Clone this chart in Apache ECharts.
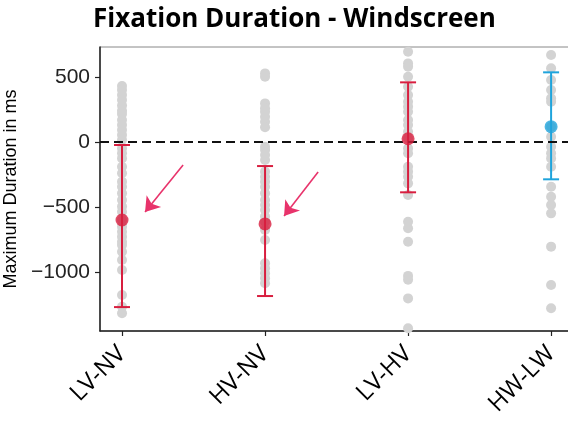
<!DOCTYPE html>
<html><head><meta charset="utf-8">
<script src="https://cdn.jsdelivr.net/npm/echarts@6/dist/echarts.min.js"></script>
<style>html,body{margin:0;padding:0;background:#fff}#c{width:568px;height:422px}</style>
</head><body><div id="c"></div>
<script>
const categories = ['LV-NV', 'HV-NV', 'LV-HV', 'HW-LW'];
const pointsLVNV = [431, 400, 361, 323, 280, 241, 215, 169, 131, 92, 54, 15, -49, -87, -126, -190, -241, -305, -344, -395, -446, -497, -536, -600, -651, -690, -728, -767, -792, -844, -908, -985, -1177, -1267, -1318];
const pointsHVNV = [528, 502, 297, 259, 233, 195, 156, 113, -36, -62, -100, -138, -228, -267, -305, -344, -395, -446, -485, -523, -574, -613, -677, -754, -933, -972, -1010, -1049, -1087];
const pointsLVHV = [695, 605, 579, 502, 425, 361, 310, 272, 233, 169, 131, 79, 28, -49, -87, -190, -228, -267, -318, -408, -613, -664, -767, -1030, -1060, -1203, -1433];
const pointsHWLW = [669, 567, 477, 400, 336, 310, 118, 41, -36, -87, -126, -190, -344, -421, -485, -549, -805, -1100, -1279];
const means = [-600, -630, 25, 118];
const ciLow = [-1270, -1185, -387, -287];
const ciHigh = [-23, -185, 459, 536];
const yTicks = [-1000, -500, 0, 500];
const xTicks = [0, 1, 2, 3];
const arrowsFrom = [[0.427, -177], [1.371, -231]];
const arrowsTo = [[0.161, -538], [1.133, -569]];

const colors = ['#d81e3f', '#d81e3f', '#d81e3f', '#1fa4dc'];
const allPoints = [pointsLVNV, pointsHVNV, pointsLVHV, pointsHWLW];
const grayData = [];
allPoints.forEach((arr, i) => arr.forEach(v => grayData.push([i, v])));

const chart = echarts.init(document.getElementById('c'));
chart.setOption({
  animation: false,
  title: {
    text: 'Fixation Duration - Windscreen',
    left: 88, top: 2,
    textStyle: { fontFamily: 'Open Sans', fontWeight: 'bold', fontSize: 26, color: '#000' }
  },
  grid: { left: 100, top: 47, bottom: 91, right: -26, show: true, borderColor: '#888', borderWidth: 1,
          containLabel: false, outerBoundsMode: 'none' },
  xAxis: {
    type: 'value', min: -0.154, max: 3.3,
    splitLine: { show: false },
    axisLine: { onZero: false, lineStyle: { color: '#222', width: 1.5 } },
    axisTick: { customValues: xTicks, length: 5, lineStyle: { color: '#222', width: 1.2 } },
    axisLabel: {
      customValues: xTicks, formatter: v => categories[v], rotate: 45,
      fontFamily: 'Open Sans', fontSize: 24, color: '#000', margin: 19
    }
  },
  yAxis: {
    type: 'value', min: -1454, max: 731,
    name: 'Maximum Duration in ms', nameLocation: 'middle', nameGap: 79,
    nameTextStyle: { fontFamily: 'Liberation Sans', fontSize: 18, color: '#000' },
    splitLine: { show: false },
    axisLine: { show: true, onZero: false, lineStyle: { color: '#222', width: 1.5 } },
    axisTick: { show: true, customValues: yTicks, length: 5, lineStyle: { color: '#222', width: 1.2 } },
    axisLabel: {
      customValues: yTicks, formatter: v => (v < 0 ? '\u2212' + Math.abs(v) : String(v)),
      fontFamily: 'Liberation Sans', fontSize: 21, color: '#222', margin: 10
    }
  },
  series: [
    {
      type: 'scatter', z: 1, symbolSize: 10, data: grayData,
      itemStyle: { color: '#d3d3d3', opacity: 1 }, silent: true
    },
    {
      type: 'line', z: 3, data: [], silent: true,
      markLine: {
        silent: true, symbol: 'none', label: { show: false },
        lineStyle: { color: '#111', width: 2, type: [9, 5] },
        data: [{ yAxis: 0 }]
      }
    },
    {
      type: 'custom', z: 4, silent: true,
      data: means.map((m, i) => [i, ciLow[i], ciHigh[i]]),
      encode: { x: 0, y: [1, 2] },
      renderItem: (params, api) => {
        const x = api.value(0);
        const pLo = api.coord([x, api.value(1)]);
        const pHi = api.coord([x, api.value(2)]);
        const c = colors[params.dataIndex];
        const hw = 8;
        const st = { stroke: c, lineWidth: 2 };
        return { type: 'group', children: [
          { type: 'line', shape: { x1: pLo[0], y1: pLo[1], x2: pHi[0], y2: pHi[1] }, style: st },
          { type: 'line', shape: { x1: pLo[0] - hw, y1: pLo[1], x2: pLo[0] + hw, y2: pLo[1] }, style: st },
          { type: 'line', shape: { x1: pHi[0] - hw, y1: pHi[1], x2: pHi[0] + hw, y2: pHi[1] }, style: st }
        ]};
      }
    },
    {
      type: 'scatter', z: 5, symbolSize: 13, silent: true,
      data: means.map((m, i) => ({ value: [i, m], itemStyle: { color: colors[i] } }))
    },
    {
      type: 'lines', coordinateSystem: 'cartesian2d', z: 6, silent: true,
      symbol: ['none', 'arrow'], symbolSize: 14,
      lineStyle: { color: '#e8336b', width: 1.6, opacity: 1 },
      data: arrowsFrom.map((f, i) => ({ coords: [f, arrowsTo[i]] }))
    }
  ]
});
</script>
</body></html>
